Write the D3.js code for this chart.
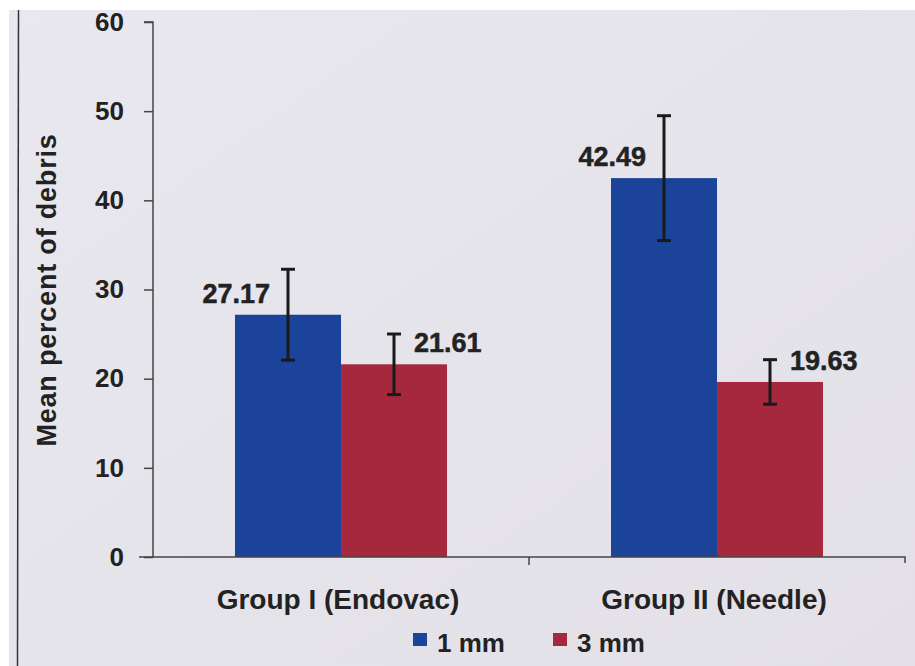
<!DOCTYPE html>
<html><head><meta charset="utf-8">
<script src="https://cdn.jsdelivr.net/npm/d3@7"></script>
<style>body{margin:0;background:#fff}svg{display:block}text{font-family:"Liberation Sans",Arial,sans-serif;font-weight:bold;fill:#222}</style>
</head><body><svg id="c" width="915" height="666"></svg>
<script>
const groups = ["Group I (Endovac)", "Group II (Needle)"];
const seriesNames = ["1 mm", "3 mm"];
const means1mm = [27.17, 42.49];
const means3mm = [21.61, 19.63];
const err1mm = [5.1, 7.0];
const err3mm = [3.4, 2.5];
const yTicks = [0, 10, 20, 30, 40, 50, 60];
const colors = ["#1b4399", "#a5283d"];

const svg = d3.select("#c");
const defs = svg.append("defs");
const grad = defs.append("linearGradient").attr("id","bg").attr("x1","0").attr("y1","0").attr("x2","1").attr("y2","1");
grad.append("stop").attr("offset","0").attr("stop-color","#e9e8ef");
grad.append("stop").attr("offset","1").attr("stop-color","#e3e0e7");
svg.append("rect").attr("x",9).attr("y",10).attr("width",906).attr("height",656).attr("fill","url(#bg)");
svg.append("line").attr("x1",18.5).attr("x2",17.5).attr("y1",10).attr("y2",666).attr("stroke","#333").attr("stroke-width",1.5);

const axX = 153;
const x0 = d3.scaleBand().domain(groups).range([axX, 905]).paddingInner(0).paddingOuter(0);
const y = d3.scaleLinear().domain([0, 60]).range([557, 22]);
const barW = 106;

const data = groups.map((g, i) => ({
  g, vals: [
    {s: 0, v: means1mm[i], e: err1mm[i]},
    {s: 1, v: means3mm[i], e: err3mm[i]}
  ]
}));

data.forEach(d => {
  const cx = x0(d.g) + x0.bandwidth() / 2;
  d.vals.forEach(b => {
    const bx = cx + (b.s === 0 ? -barW : 0);
    svg.append("rect").attr("x", bx).attr("y", y(b.v)).attr("width", barW).attr("height", y(0) - y(b.v)).attr("fill", colors[b.s]);
    const ex = bx + barW / 2;
    svg.append("line").attr("x1", ex).attr("x2", ex).attr("y1", y(b.v + b.e)).attr("y2", y(b.v - b.e)).attr("stroke", "#1a1a1a").attr("stroke-width", 3);
    [b.v + b.e, b.v - b.e].forEach(v => svg.append("line").attr("x1", ex - 7).attr("x2", ex + 7).attr("y1", y(v)).attr("y2", y(v)).attr("stroke", "#1a1a1a").attr("stroke-width", 3));
    const t = svg.append("text").attr("font-size", 27).attr("font-weight", "normal").attr("stroke", "#222").attr("stroke-width", 0.5).text(b.v.toFixed(2));
    if (b.s === 0) t.attr("x", ex - 18).attr("y", y(b.v) - 12).attr("text-anchor", "end");
    else t.attr("x", ex + 20).attr("y", y(b.v) - 12).attr("text-anchor", "start");
  });
});

// y axis
const yAxis = svg.append("g").attr("transform", `translate(${axX},0)`)
  .call(d3.axisLeft(y).tickValues(yTicks).tickSize(9).tickPadding(20).tickFormat(d3.format("d")));
yAxis.select(".domain").attr("stroke", "#444").attr("stroke-width", 1.5).attr("d", "M-9,22H0V557H-14");
yAxis.selectAll(".tick line").attr("stroke", "#444").attr("stroke-width", 1.5);
yAxis.selectAll(".tick text").attr("font-size", 26).attr("font-family", "Liberation Sans, Arial, sans-serif").attr("font-weight", "bold").attr("fill", "#222");

// x axis
const xAxis = svg.append("g").attr("transform", "translate(0,557)")
  .call(d3.axisBottom(x0).tickSize(0).tickPadding(32));
xAxis.select(".domain").attr("stroke", "#444").attr("stroke-width", 1.5).attr("d", `M${axX},0H905V6`);
xAxis.selectAll(".tick text").attr("font-size", 28).attr("font-family", "Liberation Sans, Arial, sans-serif").attr("font-weight", "bold").attr("fill", "#222").attr("dx", -3);
[x0.range()[0] + x0.bandwidth()].forEach(px => svg.append("line").attr("x1", px).attr("x2", px).attr("y1", 557).attr("y2", 565).attr("stroke", "#444").attr("stroke-width", 1.5));

// y title
svg.append("text").attr("transform", "translate(56,290) rotate(-90)").attr("text-anchor", "middle").attr("font-size", 27).attr("letter-spacing", 0.8).text("Mean percent of debris");

// legend
const legX = [413, 553];
seriesNames.forEach((n, i) => {
  svg.append("rect").attr("x", legX[i]).attr("y", 633).attr("width", 14).attr("height", 13).attr("fill", colors[i]);
  svg.append("text").attr("x", legX[i] + 24).attr("y", 652).attr("font-size", 26).text(n);
});
</script></body></html>
